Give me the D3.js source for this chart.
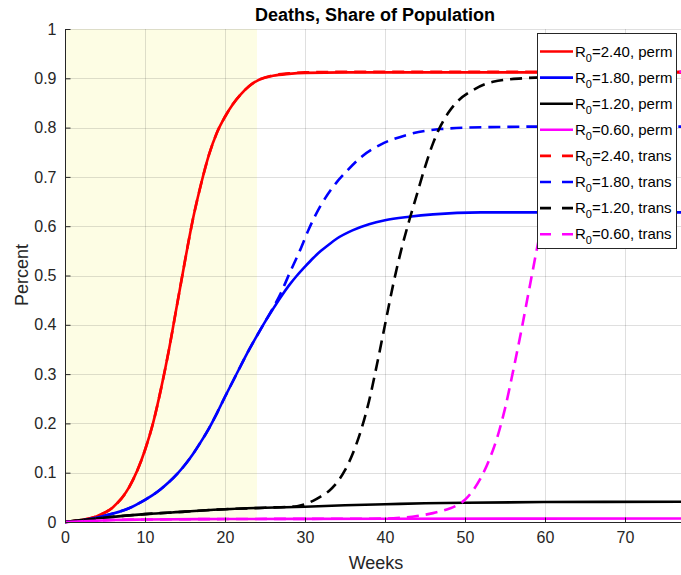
<!DOCTYPE html>
<html>
<head>
<meta charset="utf-8">
<script src="https://cdn.jsdelivr.net/npm/d3@7"></script>
<style>
  html, body { margin: 0; padding: 0; background: #fff; }
  svg { display: block; font-family: "Liberation Sans", Arial, Helvetica, sans-serif; }
</style>
</head>
<body>
<svg id="chart" width="681" height="575"></svg>
<script>
// ---- Data ----
const chartTitle = "Deaths, Share of Population";
const xLabel = "Weeks";
const yLabel = "Percent";
const xTicks = [0, 10, 20, 30, 40, 50, 60, 70];
const yTicks = [0, 0.1, 0.2, 0.3, 0.4, 0.5, 0.6, 0.7, 0.8, 0.9, 1];
const shadeWeeks = [0, 24];

const redPermT = [0, 2, 4, 6, 8, 10, 11, 12, 13, 14, 15, 16, 17, 18, 19, 20, 21, 22, 23, 24, 26, 28, 30, 35, 40, 77];
const redPermV = [0, 0.004, 0.012, 0.03, 0.07, 0.146, 0.2, 0.27, 0.35, 0.44, 0.53, 0.615, 0.685, 0.745, 0.79, 0.822, 0.848, 0.868, 0.884, 0.895, 0.905, 0.909, 0.911, 0.912, 0.912, 0.912];
const redTransT = [0, 2, 4, 6, 8, 10, 11, 12, 13, 14, 15, 16, 17, 18, 19, 20, 21, 22, 23, 24, 26, 28, 30, 35, 40, 77];
const redTransV = [0, 0.004, 0.012, 0.03, 0.07, 0.146, 0.2, 0.27, 0.35, 0.44, 0.53, 0.615, 0.685, 0.745, 0.79, 0.822, 0.848, 0.868, 0.884, 0.895, 0.906, 0.91, 0.912, 0.913, 0.913, 0.913];

const bluePermT = [0, 2, 4, 6, 8, 10, 11, 12, 13, 14, 15, 16, 17, 18, 19, 20, 21, 22, 23, 24, 25, 26, 27, 28, 29, 30, 31, 32, 33, 34, 36, 38, 40, 43, 46, 52, 60, 77];
const bluePermV = [0, 0.003, 0.009, 0.017, 0.028, 0.045, 0.055, 0.067, 0.081, 0.097, 0.116, 0.138, 0.163, 0.19, 0.221, 0.254, 0.286, 0.318, 0.349, 0.378, 0.406, 0.432, 0.457, 0.48, 0.5, 0.518, 0.535, 0.55, 0.563, 0.575, 0.592, 0.604, 0.612, 0.619, 0.624, 0.628, 0.628, 0.628];
const blueTransT = [0, 2, 4, 6, 8, 10, 11, 12, 13, 14, 15, 16, 17, 18, 19, 20, 21, 22, 23, 24, 25, 26, 27, 28, 29.4, 30.5, 31.9, 34, 35, 37, 39.4, 42.7, 46.9, 53, 60, 77];
const blueTransV = [0, 0.003, 0.009, 0.017, 0.028, 0.045, 0.055, 0.067, 0.081, 0.097, 0.116, 0.138, 0.163, 0.19, 0.221, 0.254, 0.286, 0.318, 0.349, 0.378, 0.406, 0.434, 0.465, 0.502, 0.552, 0.595, 0.64, 0.69, 0.708, 0.74, 0.765, 0.785, 0.797, 0.801, 0.802, 0.802];

const blackPermT = [0, 2, 5, 10, 15, 20, 25, 30, 35, 40, 45, 50, 60, 77];
const blackPermV = [0, 0.004, 0.009, 0.016, 0.021, 0.026, 0.029, 0.031, 0.034, 0.036, 0.038, 0.039, 0.0405, 0.041];
const blackTransT = [0, 2, 5, 10, 15, 20, 25, 29, 30, 31, 32, 33, 34, 35, 36, 37, 38, 39, 40, 41, 42, 43, 44, 45, 46, 47, 48, 49, 51, 53.5, 57.3, 60, 77];
const blackTransV = [0, 0.004, 0.009, 0.016, 0.021, 0.026, 0.029, 0.032, 0.036, 0.043, 0.052, 0.063, 0.08, 0.105, 0.14, 0.186, 0.245, 0.32, 0.4, 0.48, 0.55, 0.61, 0.665, 0.72, 0.768, 0.805, 0.832, 0.852, 0.876, 0.893, 0.9, 0.902, 0.904];

const magPermT = [0, 3, 6, 10, 20, 40, 77];
const magPermV = [0, 0.002, 0.004, 0.005, 0.006, 0.0065, 0.007];
const magTransT = [0, 3, 6, 10, 20, 40, 42, 44, 46, 47, 48, 49, 50, 51, 52, 53, 54, 55, 56, 57, 58, 59, 60, 61, 62, 63, 65, 68, 72, 77];
const magTransV = [0, 0.002, 0.004, 0.005, 0.006, 0.0068, 0.0085, 0.012, 0.018, 0.022, 0.027, 0.034, 0.045, 0.064, 0.09, 0.125, 0.17, 0.23, 0.305, 0.385, 0.47, 0.555, 0.635, 0.71, 0.77, 0.815, 0.87, 0.9, 0.91, 0.913];

const seriesNames = ["R0=2.40, perm", "R0=1.80, perm", "R0=1.20, perm", "R0=0.60, perm",
                     "R0=2.40, trans", "R0=1.80, trans", "R0=1.20, trans", "R0=0.60, trans"];
const seriesR0 = ["2.40", "1.80", "1.20", "0.60", "2.40", "1.80", "1.20", "0.60"];
const seriesKind = ["perm", "perm", "perm", "perm", "trans", "trans", "trans", "trans"];
const seriesColors = ["#ff0000", "#0000ff", "#000000", "#ff00ff", "#ff0000", "#0000ff", "#000000", "#ff00ff"];
const seriesT = [redPermT, bluePermT, blackPermT, magPermT, redTransT, blueTransT, blackTransT, magTransT];
const seriesV = [redPermV, bluePermV, blackPermV, magPermV, redTransV, blueTransV, blackTransV, magTransV];

// ---- Layout ----
const svg = d3.select("#chart");
const pLeft = 65, pRight = 681, pTop = 29, pBottom = 522;
const axisColor = "#262626";

const x = d3.scaleLinear().domain([0, 77]).range([pLeft, pRight]);
const y = d3.scaleLinear().domain([0, 1]).range([pBottom, pTop]);

svg.append("defs").append("clipPath").attr("id", "plotclip")
  .append("rect").attr("x", pLeft).attr("y", pTop - 2).attr("width", pRight - pLeft).attr("height", pBottom - pTop + 4);

// Shaded region
svg.append("rect")
  .attr("x", x(shadeWeeks[0])).attr("y", y(1))
  .attr("width", x(shadeWeeks[1]) - x(shadeWeeks[0]))
  .attr("height", y(0) - y(1))
  .attr("fill", "#fdfde4");

// Grid
const grid = svg.append("g").attr("stroke", "rgba(38,38,38,0.15)").attr("stroke-width", 1);
xTicks.forEach(t => {
  grid.append("line").attr("x1", x(t) + 0.5).attr("x2", x(t) + 0.5).attr("y1", y(0)).attr("y2", y(1));
});
yTicks.forEach(t => {
  grid.append("line").attr("x1", pLeft).attr("x2", pRight).attr("y1", Math.round(y(t)) + 0.5).attr("y2", Math.round(y(t)) + 0.5);
});

// Lines
const plot = svg.append("g").attr("clip-path", "url(#plotclip)");
const lineGen = d3.line().x(d => x(d[0])).y(d => y(d[1])).curve(d3.curveMonotoneX);
seriesNames.forEach((name, i) => {
  const pts = seriesT[i].map((t, k) => [t, seriesV[i][k]]);
  plot.append("path")
    .attr("d", lineGen(pts))
    .attr("fill", "none")
    .attr("stroke", seriesColors[i])
    .attr("stroke-width", 2.6)
    .attr("stroke-dasharray", seriesKind[i] === "trans" ? "12,7" : null);
});

// Axes
const xAxis = d3.axisBottom(x).tickValues(xTicks).tickSize(-5).tickPadding(9).tickFormat(d3.format("d"));
const yAxis = d3.axisLeft(y).tickValues(yTicks).tickSize(-5).tickPadding(9).tickFormat(d => d === 0 ? "0" : d === 1 ? "1" : d3.format(".1f")(d));

const gx = svg.append("g").attr("transform", `translate(0,${pBottom + 0.5})`).call(xAxis);
const gy = svg.append("g").attr("transform", `translate(${pLeft + 0.5},0)`).call(yAxis);
[gx, gy].forEach(g => {
  g.select(".domain").attr("stroke", axisColor);
  g.selectAll(".tick line").attr("stroke", axisColor);
  g.selectAll(".tick text").attr("fill", axisColor).style("font-size", "16px").style("font-family", "'Liberation Sans', Arial, sans-serif");
});
gx.select(".domain").attr("d", `M${pLeft},0H${pRight + 5}`);
gy.select(".domain").attr("d", `M0,${pBottom}V${pTop}`);

// Title and labels
svg.append("text").attr("x", 375).attr("y", 21).attr("text-anchor", "middle")
  .style("font-size", "18px").style("font-weight", "bold").attr("fill", "#000").text(chartTitle);
svg.append("text").attr("x", 376).attr("y", 569).attr("text-anchor", "middle")
  .style("font-size", "18px").attr("fill", axisColor).text(xLabel);
svg.append("text").attr("transform", "translate(28,275) rotate(-90)").attr("text-anchor", "middle")
  .style("font-size", "18px").attr("fill", axisColor).text(yLabel);

// Legend
const lg = svg.append("g");
lg.append("rect").attr("x", 537.5).attr("y", 33.5).attr("width", 139).attr("height", 215)
  .attr("fill", "#fff").attr("stroke", axisColor).attr("stroke-width", 1);
seriesNames.forEach((name, i) => {
  const cy = 51.5 + i * 26.1;
  lg.append("line").attr("x1", 540).attr("x2", 573).attr("y1", cy).attr("y2", cy)
    .attr("stroke", seriesColors[i]).attr("stroke-width", 2.6)
    .attr("stroke-dasharray", seriesKind[i] === "trans" ? "11,11" : null);
  const t = lg.append("text").attr("x", 575).attr("y", cy + 5).style("font-size", "15px").attr("fill", "#000");
  t.append("tspan").text("R");
  t.append("tspan").attr("dy", 5).style("font-size", "11px").text("0");
  t.append("tspan").attr("dy", -5).text("=" + seriesR0[i] + ", " + seriesKind[i]);
});
</script>
</body>
</html>
